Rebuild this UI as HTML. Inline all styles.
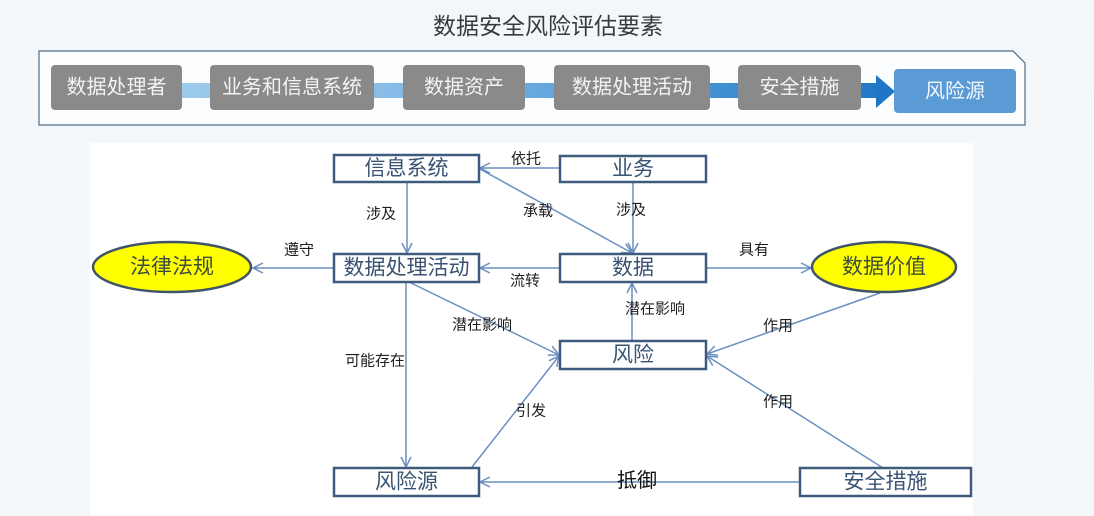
<!DOCTYPE html>
<html><head><meta charset="utf-8"><style>
html,body{margin:0;padding:0;}
body{width:1094px;height:516px;overflow:hidden;background:linear-gradient(180deg,#f3f7fa 0%,#f5f8fb 40%,#f3f7fa 100%);font-family:"Liberation Sans","Noto Sans CJK SC",sans-serif;}
svg{display:block;}
</style></head><body>
<svg width="1094" height="516" viewBox="0 0 1094 516" xmlns="http://www.w3.org/2000/svg" font-family="Liberation Sans, Noto Sans CJK SC, sans-serif">
<defs>
<linearGradient id="bar" x1="182" y1="0" x2="895" y2="0" gradientUnits="userSpaceOnUse">
<stop offset="0" stop-color="#9ccaec"/>
<stop offset="0.3" stop-color="#86bce7"/>
<stop offset="0.55" stop-color="#5ea3da"/>
<stop offset="0.8" stop-color="#3b8bd1"/>
<stop offset="1" stop-color="#1f76c4"/>
</linearGradient>
<marker id="ah" viewBox="0 0 12 12" refX="11" refY="6" markerWidth="12" markerHeight="12" markerUnits="userSpaceOnUse" orient="auto">
<path d="M1,1 L11,6 L1,11" fill="none" stroke="#6a8fc0" stroke-width="1.5"/>
</marker>
</defs>

<!-- background white diagram area -->
<rect x="90" y="143" width="883" height="373" fill="#ffffff"/>

<!-- title -->
<text x="548" y="26" font-size="23" fill="#3a3a3a" text-anchor="middle" dominant-baseline="central">数据安全风险评估要素</text>

<!-- top panel -->
<path d="M39,51 L1013,51 L1025,63 L1025,125 L39,125 Z" fill="#fbfdfe" stroke="#4d6d86" stroke-width="1.2"/>
<rect x="182" y="83" width="698" height="15" fill="url(#bar)"/>
<path d="M876,75 L895,91.5 L876,108 Z" fill="#1f76c4"/>

<g font-size="20" text-anchor="middle" dominant-baseline="central" fill="#f4f4f4">
<rect x="51" y="65" width="131" height="45" rx="4" fill="#8a8a8a"/>
<text x="116.5" y="87.5">数据处理者</text>
<rect x="210" y="65" width="164" height="45" rx="4" fill="#8a8a8a"/>
<text x="292" y="87.5">业务和信息系统</text>
<rect x="403" y="65" width="122" height="45" rx="4" fill="#8a8a8a"/>
<text x="464" y="87.5">数据资产</text>
<rect x="554" y="65" width="156" height="45" rx="4" fill="#8a8a8a"/>
<text x="632" y="87.5">数据处理活动</text>
<rect x="738" y="65" width="123" height="45" rx="4" fill="#8a8a8a"/>
<text x="799.5" y="87.5">安全措施</text>
<rect x="894" y="69" width="122" height="44" rx="4" fill="#5b9bd5"/>
<text x="955" y="91.5" fill="#f2f7fc">风险源</text>
</g>

<!-- connectors -->
<g stroke="#6a8fc0" stroke-width="1.5" fill="none" marker-end="url(#ah)">
<line x1="560" y1="168" x2="480" y2="168"/>
<line x1="480" y1="169" x2="632" y2="253"/>
<line x1="633" y1="182" x2="633" y2="253"/>
<line x1="407" y1="182" x2="407" y2="253"/>
<line x1="560" y1="268" x2="480" y2="268"/>
<line x1="334" y1="268" x2="253" y2="268"/>
<line x1="706" y1="268" x2="811" y2="268"/>
<line x1="409" y1="282" x2="559" y2="355"/>
<line x1="406" y1="282" x2="406" y2="467"/>
<line x1="472" y1="467" x2="559" y2="356"/>
<line x1="632" y1="341" x2="632" y2="283"/>
<line x1="880" y1="293" x2="707" y2="354"/>
<line x1="883" y1="468" x2="707" y2="356"/>
<line x1="800" y1="482" x2="480" y2="482"/>
</g>

<!-- nodes -->
<g stroke="#3e5a7c" stroke-width="2.5" fill="#ffffff">
<rect x="334" y="155" width="145" height="27"/>
<rect x="560" y="156" width="146" height="26"/>
<rect x="334" y="254" width="145" height="28"/>
<rect x="560" y="254" width="146" height="28"/>
<rect x="560" y="341" width="146" height="28"/>
<rect x="334" y="468" width="145" height="28"/>
<rect x="800" y="468" width="171" height="28"/>
</g>
<g stroke="#3f5567" stroke-width="2.5" fill="#ffff00">
<ellipse cx="172" cy="267" rx="79" ry="25"/>
<ellipse cx="884" cy="267" rx="72" ry="25"/>
</g>

<g font-size="21" text-anchor="middle" dominant-baseline="central" fill="#3a5373">
<text x="406.5" y="168.5">信息系统</text>
<text x="633" y="169">业务</text>
<text x="406.5" y="268">数据处理活动</text>
<text x="633" y="268">数据</text>
<text x="633" y="355">风险</text>
<text x="406.5" y="482">风险源</text>
<text x="885.5" y="482">安全措施</text>
</g>
<g font-size="21" text-anchor="middle" dominant-baseline="central" fill="#3d4d3c">
<text x="172" y="267">法律法规</text>
<text x="884" y="267">数据价值</text>
</g>

<!-- labels -->
<g font-size="15" text-anchor="middle" dominant-baseline="central" fill="#1e1e1e">
<text x="526" y="159">依托</text>
<text x="538" y="211">承载</text>
<text x="381" y="214">涉及</text>
<text x="631" y="210">涉及</text>
<text x="299" y="250">遵守</text>
<text x="754" y="250">具有</text>
<text x="525" y="281">流转</text>
<text x="655" y="309">潜在影响</text>
<text x="482" y="325">潜在影响</text>
<text x="375" y="361">可能存在</text>
<text x="778" y="326">作用</text>
<text x="531" y="411">引发</text>
<text x="778" y="402">作用</text>
</g>
<text x="637" y="481" font-size="20" text-anchor="middle" dominant-baseline="central" fill="#111111">抵御</text>
</svg>
</body></html>
